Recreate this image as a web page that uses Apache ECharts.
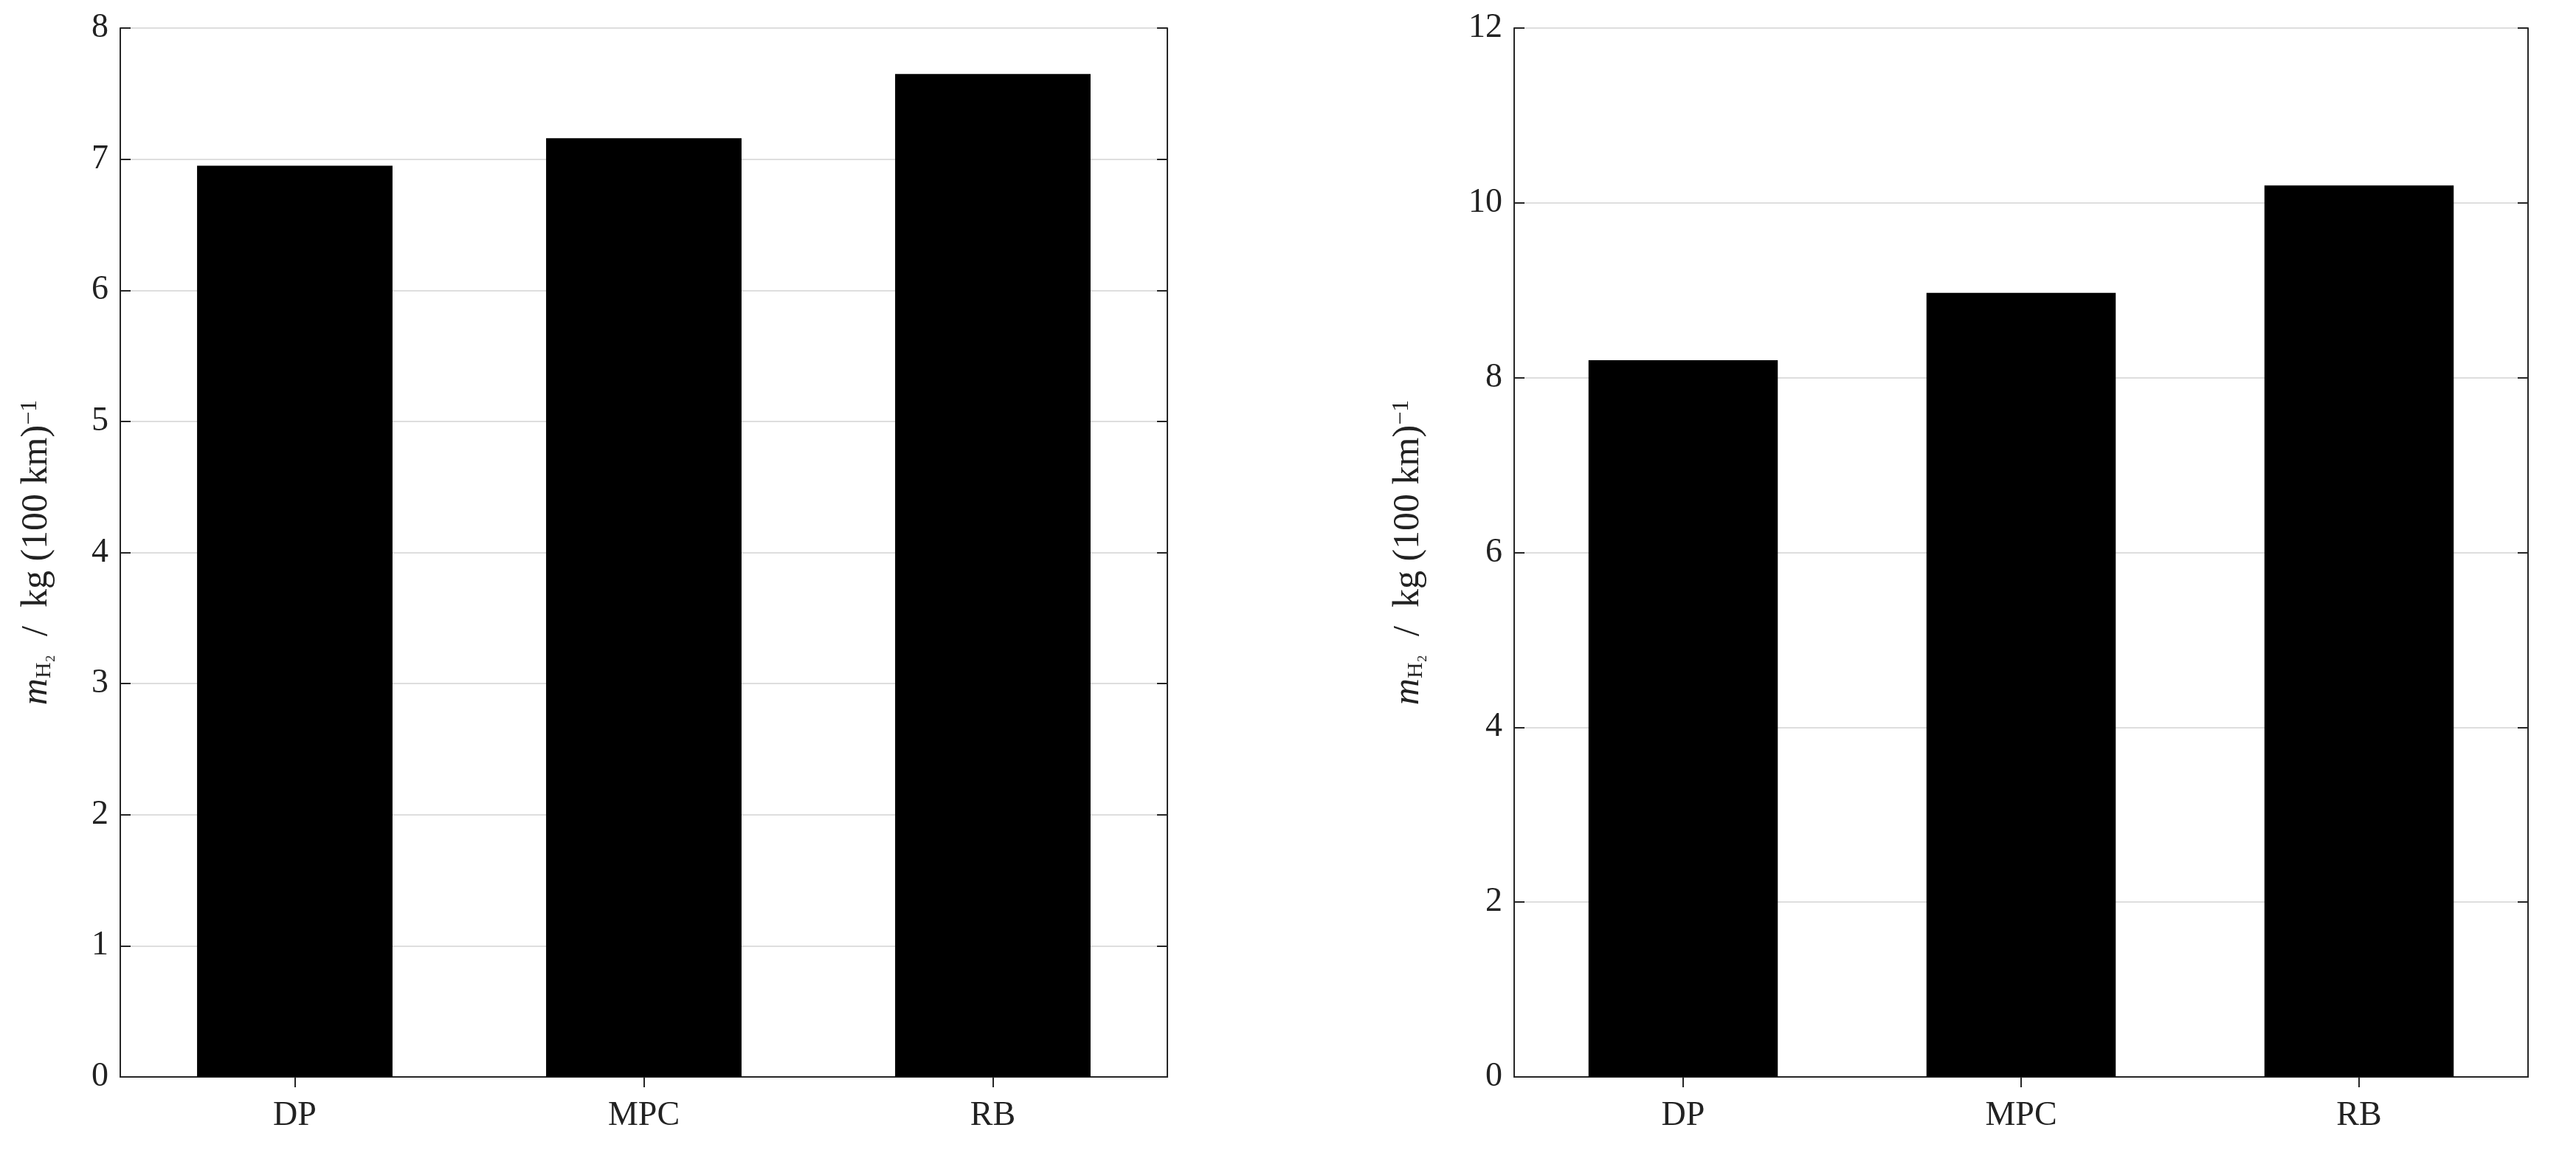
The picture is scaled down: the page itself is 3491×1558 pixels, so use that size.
<!DOCTYPE html>
<html><head><meta charset="utf-8">
<script src="https://cdn.jsdelivr.net/npm/echarts@6/dist/echarts.min.js"></script>
<style>html,body{margin:0;padding:0;background:#fff}#c{width:3491px;height:1558px}</style>
</head><body><div id="c"></div>
<script>
const categories = ['DP', 'MPC', 'RB'];
const leftValues = [6.95, 7.16, 7.65];
const rightValues = [8.2, 8.97, 10.2];
const leftTicks = {min: 0, max: 8, interval: 1};
const rightTicks = {min: 0, max: 12, interval: 2};

const F = 'Liberation Serif';
const chart = echarts.init(document.getElementById('c'));
const grids = [
  {left: 163, top: 38, width: 1419, height: 1421},
  {left: 2052, top: 38, width: 1374, height: 1421}
];
const nameRich = {
  m: {fontFamily: F, fontStyle: 'italic', fontSize: 50, color: '#222'},
  s: {fontFamily: F, fontSize: 30, color: '#222', verticalAlign: 'bottom', padding: [0,0,0,0]},
  t: {fontFamily: F, fontSize: 50, color: '#222'},
  p: {fontFamily: F, fontSize: 32, color: '#222', verticalAlign: 'top'}
};
const yName = '{m|m}{s|H₂}{t|  /  kg (100 km)}{p|−1}';
const xAxes = [], yAxes = [], series = [];
[leftValues, rightValues].forEach((vals, i) => {
  const tk = i === 0 ? leftTicks : rightTicks;
  const line = {show: true, lineStyle: {color: '#262626', width: 2}};
  xAxes.push({type: 'category', gridIndex: i, data: categories, position: 'bottom',
    axisLine: line, axisTick: {show: true, inside: true, alignWithLabel: true, length: 14, lineStyle: {color: '#262626', width: 2}},
    axisLabel: {fontFamily: F, fontSize: 46, color: '#222', margin: 30}});
  xAxes.push({type: 'category', gridIndex: i, data: categories, position: 'top',
    axisLine: line, axisTick: {show: true, inside: true, alignWithLabel: true, length: 14, lineStyle: {color: '#262626', width: 2}},
    axisLabel: {show: false}});
  yAxes.push({type: 'value', gridIndex: i, min: tk.min, max: tk.max, interval: tk.interval, position: 'left',
    name: yName, nameLocation: 'middle', nameGap: i === 0 ? 88 : 118, nameRotate: 90,
    nameTextStyle: {rich: nameRich},
    axisLine: line, axisTick: {show: true, inside: true, length: 14, lineStyle: {color: '#262626', width: 2}},
    axisLabel: {fontFamily: F, fontSize: 46, color: '#222', margin: 16},
    splitLine: {show: true, lineStyle: {color: '#dedede', width: 2}}});
  yAxes.push({type: 'value', gridIndex: i, min: tk.min, max: tk.max, interval: tk.interval, position: 'right',
    axisLine: line, axisTick: {show: true, inside: true, length: 14, lineStyle: {color: '#262626', width: 2}},
    axisLabel: {show: false}, splitLine: {show: false}});
  series.push({type: 'bar', xAxisIndex: i * 2, yAxisIndex: i * 2, data: vals, barWidth: '56%',
    itemStyle: {color: '#000'}, silent: true});
});
chart.setOption({animation: false, grid: grids, xAxis: xAxes, yAxis: yAxes, series: series});
</script></body></html>
